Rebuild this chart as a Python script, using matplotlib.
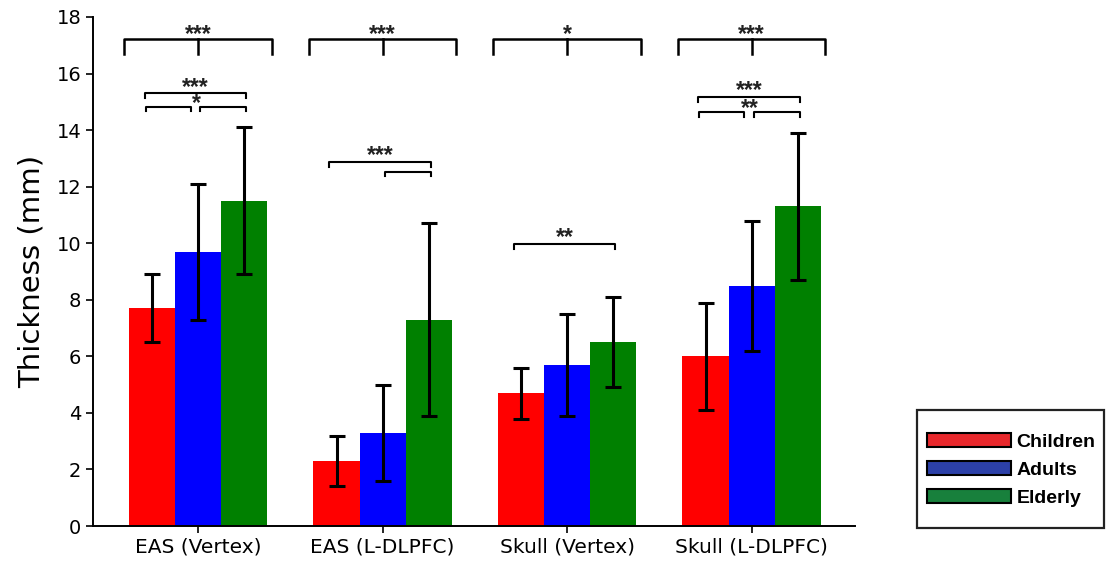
import matplotlib
matplotlib.use("Agg")
import matplotlib.pyplot as plt
from matplotlib.patches import Patch, Rectangle
import numpy as np

categories = ["EAS (Vertex)", "EAS (L-DLPFC)", "Skull (Vertex)", "Skull (L-DLPFC)"]
groups = ["Children", "Adults", "Elderly"]
children_mean = [7.7, 2.3, 4.7, 6.0]
children_sd = [1.2, 0.9, 0.9, 1.9]
adults_mean = [9.7, 3.3, 5.7, 8.5]
adults_sd = [2.4, 1.7, 1.8, 2.3]
elderly_mean = [11.5, 7.3, 6.5, 11.3]
elderly_sd = [2.6, 3.4, 1.6, 2.6]

# overall group tests (one per category)
overall_labels = ["***", "***", "*", "***"]
# pairwise brackets: (category, from_bar, to_bar, level, label)
pair_brackets = [
    (0, 0, 2, 15.3, "***"),
    (0, 0, 1, 14.82, ""),
    (0, 1, 2, 14.82, ""),
    (1, 0, 2, 12.87, "***"),
    (1, 1, 2, 12.52, ""),
    (2, 0, 2, 9.97, "**"),
    (3, 0, 2, 15.17, "***"),
    (3, 0, 1, 14.64, ""),
    (3, 1, 2, 14.64, ""),
]
# single labels sitting between paired small brackets: (category, level, label)
mid_labels = [(0, 14.82, "*"), (3, 14.64, "**")]

bar_colors = ["#ff0000", "#0000ff", "#008000"]
legend_colors = ["#e8282c", "#2c40a8", "#18803c"]

W, H = 1106, 564
fig = plt.figure(figsize=(W / 100, H / 100), dpi=100)
ax = fig.add_axes([93/W, 38/H, (855-93)/W, (526-17)/H])

x = np.arange(len(categories))
w = 0.25
means = [children_mean, adults_mean, elderly_mean]
sds = [children_sd, adults_sd, elderly_sd]
for i in range(3):
    ax.bar(x + (i - 1) * w, means[i], w, color=bar_colors[i],
           yerr=sds[i], error_kw=dict(ecolor="black", elinewidth=2.2,
                                      capsize=6, capthick=2.2), zorder=2)

star_kw = dict(ha="center", va="center", fontsize=16.5, color="#222222",
               family="Liberation Sans", weight="bold")
# offset from glyph centre to text centre (asterisk sits high in its box)
star_shift = 0.14

# overall brackets
top_y, drop = 17.21, 0.52
for g, lab in enumerate(overall_labels):
    xl, xr = g - 0.4, g + 0.4
    ax.plot([xl, xl, xr, xr], [top_y - drop, top_y, top_y, top_y - drop],
            color="black", lw=1.8, clip_on=False)
    ax.plot([g, g], [top_y, top_y - drop], color="black", lw=1.8, clip_on=False)
    ax.text(g, top_y + 0.3 - star_shift, lab, **star_kw)

# pairwise brackets
for g, a, b, lev, lab in pair_brackets:
    if b - a == 2:
        xl, xr = g - 0.29, g + 0.26
    elif a == 0:
        xl, xr = g - 0.285, g - 0.04
    else:
        xl, xr = g + 0.01, g + 0.26
    d = 0.16
    ax.plot([xl, xl, xr, xr], [lev - d, lev, lev, lev - d], color="black",
            lw=1.5, clip_on=False)
    if lab:
        ax.text((xl + xr) / 2, lev + 0.36 - star_shift, lab, **star_kw)
for g, lev, lab in mid_labels:
    ax.text(g - 0.01, lev + 0.25 - star_shift, lab, **star_kw)

ax.set_xlim(-0.57, 3.56)
ax.set_ylim(0, 18)
ax.set_yticks(np.arange(0, 19, 2))
ax.set_xticks(x)
ax.set_xticklabels(categories, fontsize=14.5)
ax.tick_params(axis="y", labelsize=14, length=5, width=1.2)
ax.tick_params(axis="x", length=5, width=1.2)
ax.spines["top"].set_visible(False)
ax.spines["right"].set_visible(False)
for s in ["left", "bottom"]:
    ax.spines[s].set_linewidth(1.4)
ax.set_ylabel("Thickness (mm)", fontsize=21, labelpad=8)

# legend frame drawn separately for its uneven padding
fig.patches.append(Rectangle((917/W, (H-528)/H), (1104-917)/W, (528-410)/H,
                             transform=fig.transFigure, facecolor="white",
                             edgecolor="#222222", linewidth=1.6))
handles = [Patch(facecolor=c, edgecolor="black", linewidth=1.5, label=l)
           for c, l in zip(legend_colors, groups)]
leg = fig.legend(handles=handles, loc="upper left",
                 bbox_to_anchor=(927/W, (H-433)/H), frameon=False,
                 prop=dict(family="Liberation Sans", weight="bold", size=14),
                 handlelength=4.3, handleheight=0.75, handletextpad=0.3,
                 labelspacing=0.52, borderpad=0, borderaxespad=0)

fig.savefig("out.png", dpi=100)
